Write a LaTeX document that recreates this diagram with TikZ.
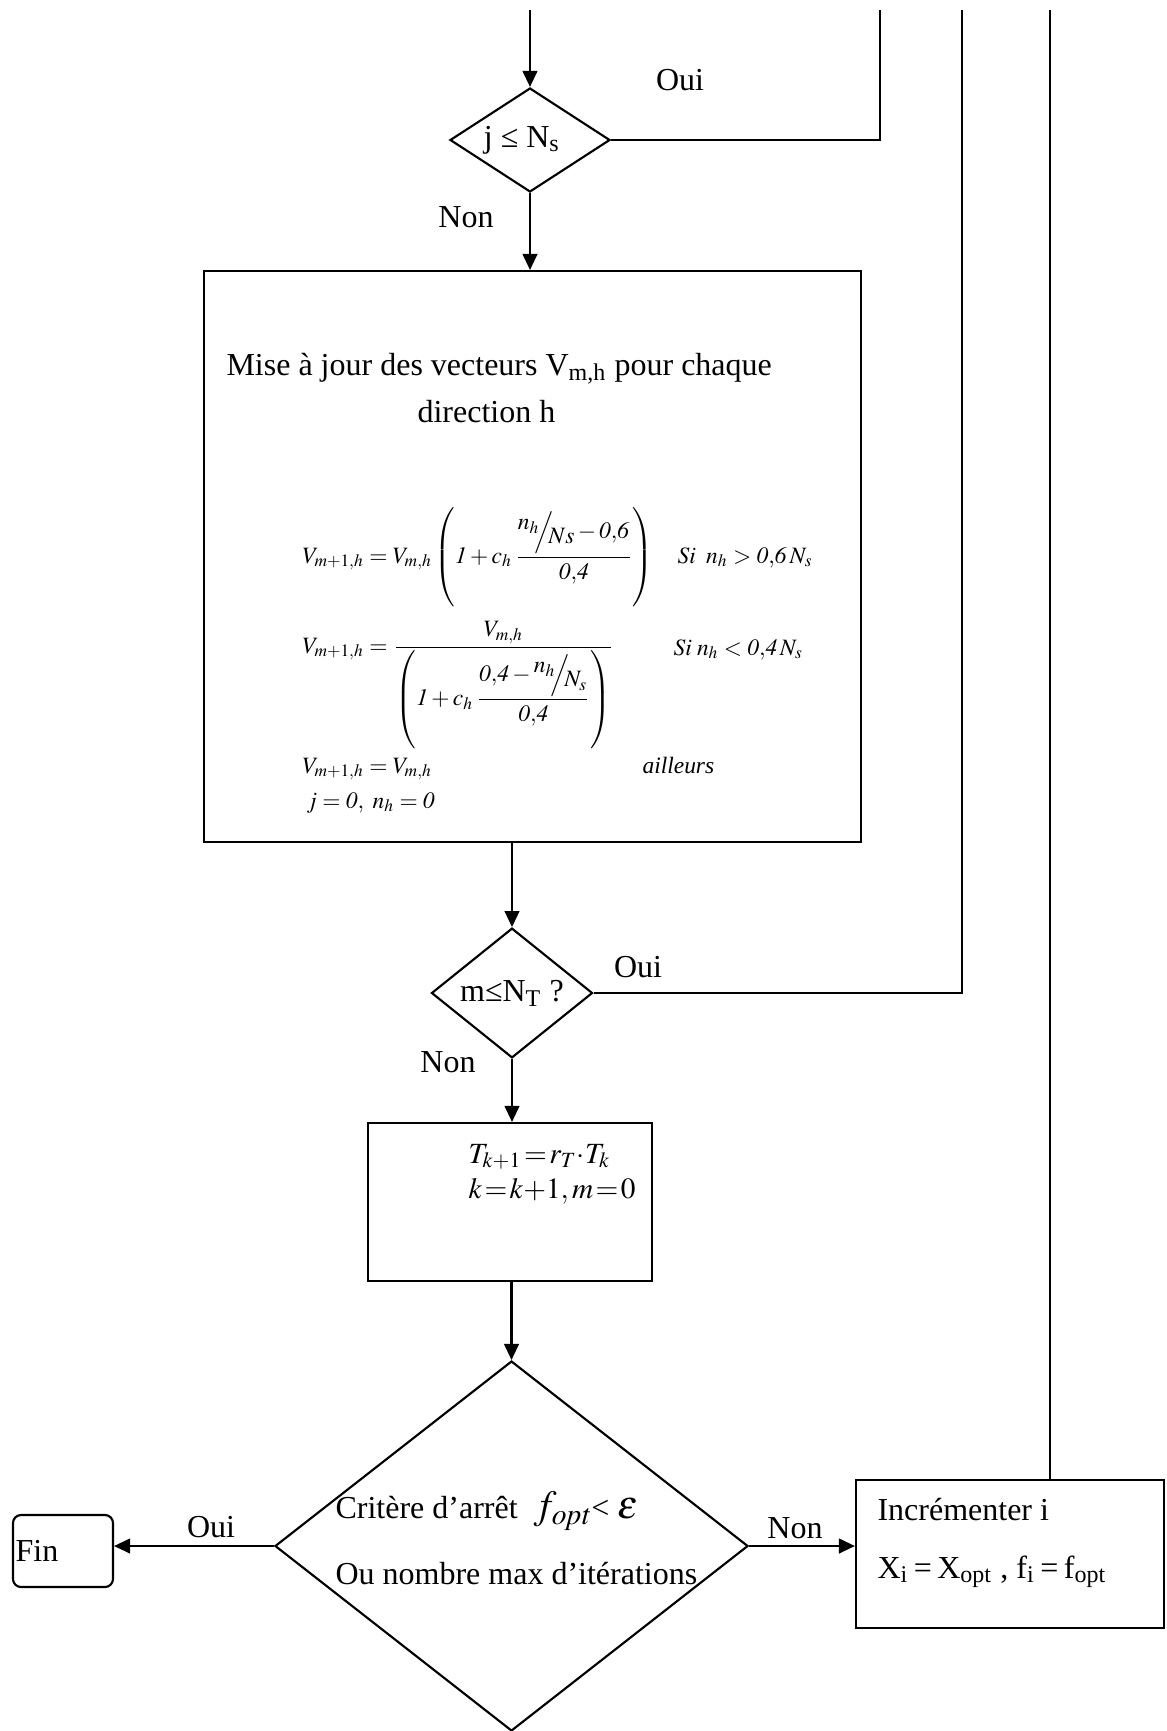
\documentclass[tikz,border=0pt]{standalone}
\usepackage{amsmath}
\usepackage{mathptmx}
\usepackage{fontspec}
\setmainfont{Liberation Serif}
\usetikzlibrary{positioning,shapes.geometric,arrows.meta}

\newcommand{\slfrac}[2]{\raisebox{0.8ex}{$#1$}\!\!\Big/\!\!\raisebox{-0.5ex}{$#2$}}

\begin{document}
\begin{tikzpicture}[
  x=0.375pt, y=-0.375pt,
  box/.style={draw, line width=0.8pt, inner sep=0pt},
  decision/.style={diamond, draw, line width=0.8pt, inner sep=0pt},
  lbl/.style={inner sep=0pt, font=\fontsize{12}{14}\selectfont},
  txt/.style={lbl, anchor=base west},
  formula/.style={inner sep=0pt, anchor=base west, font=\fontsize{8.8}{10}\selectfont},
  line/.style={draw, line width=0.8pt},
  arrow/.style={line, -{Triangle[length=6pt,width=5.5pt]}}
]
\useasboundingbox (0,0) rectangle (1166,1731);

% boxes and tests
\node[decision, lbl, shape aspect=1.6, minimum width=60pt, minimum height=39pt] (ns) at (530,140) {j ≤ N\textsubscript{s}\hspace{6pt}\mbox{}};
\node[box, minimum width=246.4pt, minimum height=214.1pt] (upd) at (532.5,556.5) {};
\node[decision, lbl, minimum width=60.4pt, minimum height=43.5pt] (nt) at (512,993) {m≤N\textsubscript{T} ?};
\node[box, minimum width=106.5pt, minimum height=59.25pt] (temp) at (510,1202) {};
\node[decision, minimum width=177.4pt, minimum height=138.75pt] (stop) at (511.5,1546) {};
\node[box, lbl, rounded corners=3pt, minimum height=27pt, text width=35.5pt, align=left, inner xsep=1pt] (fin) at (63,1551) {Fin};
\node[box, minimum width=115.5pt, minimum height=55.5pt] (incr) at (1010,1554) {};

% loop ends at the top
\coordinate (in) at (530,10);
\coordinate (back1) at (880,10);
\coordinate (back2) at (962,10);
\coordinate (back3) at (1050,10);

% texts of the update box
\node[txt] (updtxt1) at (226,375) {Mise à jour des vecteurs V\textsubscript{m,h} pour chaque};
\node[txt] (updtxt2) at (417,422) {direction h};
\node[formula] (eq1) at (302,563) {$V_{m+1,h} = V_{m,h}\left(\rule[-15.5pt]{0pt}{35pt}\mathit{1} + c_h\,\dfrac{\slfrac{n_h}{Ns} - \mathit{0{,}6}}{\mathit{0{,}4}}\right)$};
\node[formula] (cond1) at (677,563) {$\mathit{Si}\;\; n_h > \mathit{0{,}6}\,N_s$};
\node[formula] (eq2) at (302,653) {$V_{m+1,h} = \dfrac{V_{m,h}}{\left(\rule[-16.5pt]{0pt}{37pt}\mathit{1} + c_h\,\dfrac{\mathit{0{,}4} - \slfrac{n_h}{N_s}}{\mathit{0{,}4}}\right)}$};
\node[formula] (cond2) at (673,655) {$\mathit{Si}\; n_h < \mathit{0{,}4}\,N_s$};
\node[formula] (eq3) at (302,773) {$V_{m+1,h} = V_{m,h}$};
\node[formula] (cond3) at (642,773) {\itshape ailleurs};
\node[formula] (eq4) at (306,808) {$j = \mathit{0},\ n_h = \mathit{0}$};

% texts of the other boxes
\node[txt, font=\fontsize{11}{13}\selectfont] (temptxt1) at (468,1163) {\thickmuskip=1.5mu\medmuskip=0mu $T_{k+1} = r_T \cdot T_k$};
\node[txt, font=\fontsize{11}{13}\selectfont] (temptxt2) at (468,1198) {\thickmuskip=1.5mu\medmuskip=0mu $k = k+1, m = 0$};
\node[txt] (stoptxt1) at (335,1518) {Critère d’arrêt \ {\fontsize{15}{16}\selectfont$f_{\mathit{opt}}$}< {\fontsize{15}{16}\selectfont$\varepsilon$}};
\node[txt] (stoptxt2) at (335,1584) {Ou nombre max d’itérations};
\node[txt] (incrtxt1) at (877,1520) {Incrémenter i};
\node[txt] (incrtxt2) at (877,1578) {X\textsubscript{i}\,=\,X\textsubscript{opt} , f\textsubscript{i}\,=\,f\textsubscript{opt}};

% labels
\node[lbl] (oui1) at (680,80) {Oui};
\node[lbl] (non1) at (466,217) {Non};
\node[lbl] (oui2) at (638,967) {Oui};
\node[lbl] (non2) at (448,1062) {Non};
\node[lbl] (oui3) at (211,1527) {Oui};
\node[lbl] (non3) at (795,1528) {Non};

% connectors
\draw[arrow] (in) -- (ns.north);
\draw[line] (ns.east) -| (back1);
\draw[arrow] (ns.south) -- (ns.south |- upd.north);
\draw[arrow] (nt.north |- upd.south) -- (nt.north);
\draw[line] (nt.east) -| (back2);
\draw[arrow] (nt.south) -- (nt.south |- temp.north);
\draw[arrow] (stop.north |- temp.south) -- (stop.north);
\draw[arrow] (stop.west) -- (stop.west -| fin.east);
\draw[arrow] (stop.east) -- (stop.east -| incr.west);
\draw[line] (back3 |- incr.north) -- (back3);
\end{tikzpicture}
\end{document}
